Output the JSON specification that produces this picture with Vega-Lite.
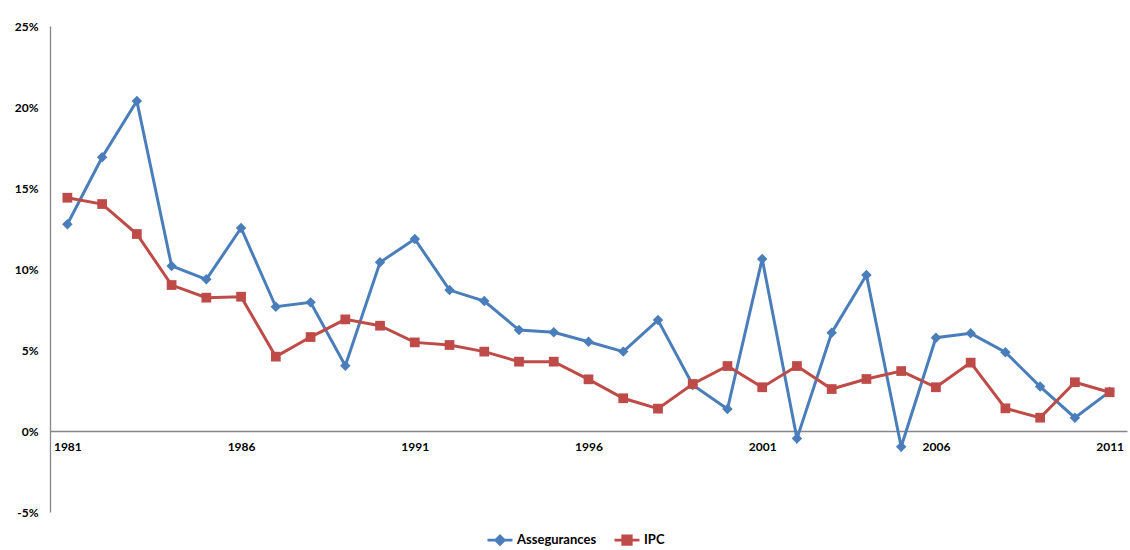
{
  "$schema": "https://vega.github.io/schema/vega-lite/v6.json",
  "width": 1077,
  "height": 486,
  "autosize": "none",
  "padding": {"left": 50, "top": 26, "right": 3, "bottom": 38},
  "background": "white",
  "config": {"view": {"stroke": null}, "font": "Lato"},
  "data": {"values": [
    {"year": 1981, "series": "Assegurances", "value": 12.76}, {"year": 1981, "series": "IPC", "value": 14.40},
    {"year": 1982, "series": "Assegurances", "value": 16.90}, {"year": 1982, "series": "IPC", "value": 14.01},
    {"year": 1983, "series": "Assegurances", "value": 20.37}, {"year": 1983, "series": "IPC", "value": 12.16},
    {"year": 1984, "series": "Assegurances", "value": 10.19}, {"year": 1984, "series": "IPC", "value": 9.01},
    {"year": 1985, "series": "Assegurances", "value": 9.36}, {"year": 1985, "series": "IPC", "value": 8.23},
    {"year": 1986, "series": "Assegurances", "value": 12.53}, {"year": 1986, "series": "IPC", "value": 8.29},
    {"year": 1987, "series": "Assegurances", "value": 7.67}, {"year": 1987, "series": "IPC", "value": 4.59},
    {"year": 1988, "series": "Assegurances", "value": 7.94}, {"year": 1988, "series": "IPC", "value": 5.80},
    {"year": 1989, "series": "Assegurances", "value": 4.03}, {"year": 1989, "series": "IPC", "value": 6.89},
    {"year": 1990, "series": "Assegurances", "value": 10.41}, {"year": 1990, "series": "IPC", "value": 6.50},
    {"year": 1991, "series": "Assegurances", "value": 11.85}, {"year": 1991, "series": "IPC", "value": 5.47},
    {"year": 1992, "series": "Assegurances", "value": 8.70}, {"year": 1992, "series": "IPC", "value": 5.31},
    {"year": 1993, "series": "Assegurances", "value": 8.02}, {"year": 1993, "series": "IPC", "value": 4.90},
    {"year": 1994, "series": "Assegurances", "value": 6.23}, {"year": 1994, "series": "IPC", "value": 4.28},
    {"year": 1995, "series": "Assegurances", "value": 6.09}, {"year": 1995, "series": "IPC", "value": 4.28},
    {"year": 1996, "series": "Assegurances", "value": 5.51}, {"year": 1996, "series": "IPC", "value": 3.19},
    {"year": 1997, "series": "Assegurances", "value": 4.90}, {"year": 1997, "series": "IPC", "value": 2.02},
    {"year": 1998, "series": "Assegurances", "value": 6.85}, {"year": 1998, "series": "IPC", "value": 1.38},
    {"year": 1999, "series": "Assegurances", "value": 2.84}, {"year": 1999, "series": "IPC", "value": 2.90},
    {"year": 2000, "series": "Assegurances", "value": 1.36}, {"year": 2000, "series": "IPC", "value": 4.01},
    {"year": 2001, "series": "Assegurances", "value": 10.62}, {"year": 2001, "series": "IPC", "value": 2.70},
    {"year": 2002, "series": "Assegurances", "value": -0.47}, {"year": 2002, "series": "IPC", "value": 4.01},
    {"year": 2003, "series": "Assegurances", "value": 6.07}, {"year": 2003, "series": "IPC", "value": 2.59},
    {"year": 2004, "series": "Assegurances", "value": 9.63}, {"year": 2004, "series": "IPC", "value": 3.21},
    {"year": 2005, "series": "Assegurances", "value": -0.97}, {"year": 2005, "series": "IPC", "value": 3.70},
    {"year": 2006, "series": "Assegurances", "value": 5.76}, {"year": 2006, "series": "IPC", "value": 2.70},
    {"year": 2007, "series": "Assegurances", "value": 6.03}, {"year": 2007, "series": "IPC", "value": 4.22},
    {"year": 2008, "series": "Assegurances", "value": 4.86}, {"year": 2008, "series": "IPC", "value": 1.40},
    {"year": 2009, "series": "Assegurances", "value": 2.74}, {"year": 2009, "series": "IPC", "value": 0.82},
    {"year": 2010, "series": "Assegurances", "value": 0.82}, {"year": 2010, "series": "IPC", "value": 3.01},
    {"year": 2011, "series": "Assegurances", "value": 2.43}, {"year": 2011, "series": "IPC", "value": 2.39}
  ]},
  "encoding": {
    "x": {
      "field": "year", "type": "quantitative",
      "scale": {"domain": [1980.5, 2011.5], "nice": false, "zero": false},
      "axis": {
        "title": null, "grid": false, "ticks": false, "offset": -81,
        "values": [1981, 1986, 1991, 1996, 2001, 2006, 2011], "format": "d",
        "domainColor": "#868686", "domainWidth": 1.3,
        "labelFont": "Lato", "labelFontWeight": "bold", "labelFontSize": 12, "labelColor": "#000000",
        "labelPadding": 10, "labelFlush": false, "labelOverlap": false
      }
    },
    "y": {
      "field": "value", "type": "quantitative",
      "scale": {"domain": [-5, 25], "nice": false, "zero": false},
      "axis": {
        "title": null, "grid": false, "ticks": false,
        "values": [-5, 0, 5, 10, 15, 20, 25],
        "labelExpr": "datum.value + '%'",
        "domainColor": "#868686", "domainWidth": 1.3,
        "labelFont": "Lato", "labelFontWeight": "bold", "labelFontSize": 12, "labelColor": "#000000",
        "labelPadding": 12, "labelFlush": false, "labelOverlap": false
      }
    },
    "color": {
      "field": "series", "type": "nominal",
      "scale": {"domain": ["Assegurances", "IPC"], "range": ["#4a7ebb", "#be4b48"]},
      "legend": {
        "title": null, "orient": "none", "direction": "horizontal",
        "legendX": 436, "legendY": 500,
        "symbolType": "M-1,0L1,0M-0.34,0L0,-0.34L0.34,0L0,0.34Z",
        "symbolSize": 625, "symbolStrokeWidth": 2.75,
        "labelFont": "Lato", "labelFontWeight": "bold", "labelFontSize": 13, "labelColor": "#000000",
        "labelOffset": 3, "columnPadding": 12,
        "encode": {
          "symbols": {"update": {
            "shape": {"signal": "datum.value === 'IPC' ? 'M-1,0L1,0M-0.34,-0.34L0.34,-0.34L0.34,0.34L-0.34,0.34Z' : 'M-1,0L1,0M-0.34,0L0,-0.34L0.34,0L0,0.34Z'"},
            "fill": {"signal": "datum.value === 'IPC' ? '#be4b48' : '#4a7ebb'"},
            "stroke": {"signal": "datum.value === 'IPC' ? '#be4b48' : '#4a7ebb'"},
            "strokeWidth": {"value": 2.75},
            "size": {"value": 625},
            "opacity": {"value": 1}
          }}
        }
      }
    }
  },
  "layer": [
    {"mark": {"type": "line", "strokeWidth": 3}},
    {
      "transform": [{"filter": "datum.series === 'Assegurances'"}],
      "mark": {"type": "point", "filled": true, "opacity": 1, "shape": "diamond", "size": 110}
    },
    {
      "transform": [{"filter": "datum.series === 'IPC'"}],
      "mark": {"type": "point", "filled": true, "opacity": 1, "shape": "square", "size": 95}
    }
  ]
}
